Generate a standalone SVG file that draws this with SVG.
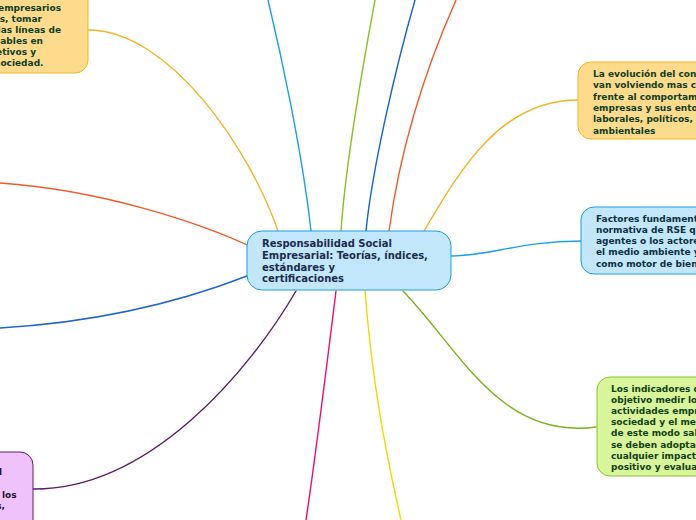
<svg xmlns="http://www.w3.org/2000/svg" width="696" height="520" viewBox="0 0 696 520">
<style>
.c{fill:none;stroke-width:1.4;stroke-linecap:round}
.t{font-family:"DejaVu Sans",Verdana,sans-serif;font-weight:bold;font-size:9px}
.ty{fill:#0f3d1f}
.tb{fill:#0b2f40}
.tg{fill:#124012}
.tp{fill:#1e1430}
.main{font-family:"DejaVu Sans",Verdana,sans-serif;font-weight:bold;font-size:10px;fill:#1a2b4f}
.ny{fill:#fedb8c;stroke:#f5b324;stroke-width:1}
.nb{fill:#c3e7fa;stroke:#1c9fe0;stroke-width:1}
.ng{fill:#d8f59c;stroke:#86c42a;stroke-width:1}
.np{fill:#efc2fb;stroke:#5e1a6e;stroke-width:1}
</style>
<rect width="696" height="520" fill="#ffffff"/>
<g id="connectors">
<path class="c" stroke="#f5b324" d="M88,30 C170,30 250,150 278,231"/>
<path class="c" stroke="#f05a28" d="M0,183 C100,190 200,222 258,250"/>
<path class="c" stroke="#1e63cf" d="M0,328 C100,322 180,302 247,276"/>
<path class="c" stroke="#5d1a6a" d="M33,489 C150,490 250,370 296,291"/>
<path class="c" stroke="#1ba1e2" d="M268,0 C280,50 302,150 311,231"/>
<path class="c" stroke="#8cbf26" d="M375,0 C362,70 345,170 341,231"/>
<path class="c" stroke="#1560d6" d="M415,0 C395,70 372,170 366,231"/>
<path class="c" stroke="#f2592a" d="M456,0 C425,70 400,150 389,231"/>
<path class="c" stroke="#f5b324" d="M578,100 C500,100 460,170 424,231"/>
<path class="c" stroke="#1ba1e2" d="M581,241 C520,241 490,256 451,256"/>
<path class="c" stroke="#7ab317" d="M596,427 C500,440 460,350 403,291"/>
<path class="c" stroke="#ec0c6e" d="M336,291 C325,380 315,460 306,520"/>
<path class="c" stroke="#f0d800" d="M365,291 C372,380 385,450 401,520"/>
</g>
<g id="node-main">
<rect x="247" y="231" width="204" height="59" rx="15" fill="#c3e7fa" stroke="#1c9fe0" stroke-width="1"/>
<text class="main" x="262" y="247">Responsabilidad Social</text>
<text class="main" x="262" y="258.8">Empresarial: Teorías, índices,</text>
<text class="main" x="262" y="270.5">estándares y</text>
<text class="main" x="262" y="282">certificaciones</text>
</g>
<g id="node-topleft">
<rect x="-40" y="-20" width="128" height="93" rx="13" class="ny"/>
<text class="t ty" text-anchor="end" x="61" y="10.5">empresarios</text>
<text class="t ty" text-anchor="end" x="42" y="21.5">s, tomar</text>
<text class="t ty" text-anchor="end" x="61" y="32.5">las líneas de</text>
<text class="t ty" text-anchor="end" x="43" y="43.5">sables en</text>
<text class="t ty" text-anchor="end" x="36" y="54.5">etivos y</text>
<text class="t ty" text-anchor="end" x="43.5" y="65.5">sociedad.</text>
</g>
<g id="node-right1">
<rect x="578" y="62" width="140" height="77" rx="13" class="ny"/>
<text class="t ty" x="593" y="77">La evolución del con</text>
<text class="t ty" x="593" y="88.3">van volviendo mas c</text>
<text class="t ty" x="593" y="99.6">frente al comportam</text>
<text class="t ty" x="593" y="110.9">empresas y sus ento</text>
<text class="t ty" x="593" y="122.2">laborales, políticos, </text>
<text class="t ty" x="593" y="133.5">ambientales</text>
</g>
<g id="node-right2">
<rect x="581" y="207" width="140" height="67" rx="13" class="nb"/>
<text class="t tb" x="596" y="221.5">Factores fundament</text>
<text class="t tb" x="596" y="232.8">normativa de RSE qu</text>
<text class="t tb" x="596" y="244">agentes o los actore</text>
<text class="t tb" x="596" y="255.3">el medio ambiente y</text>
<text class="t tb" x="596" y="266.5">como motor de bien</text>
</g>
<g id="node-right3">
<rect x="597" y="377" width="130" height="99" rx="13" class="ng"/>
<text class="t tg" x="611" y="392">Los indicadores d</text>
<text class="t tg" x="611" y="403.1">objetivo medir lo</text>
<text class="t tg" x="611" y="414.2">actividades empr</text>
<text class="t tg" x="611" y="425.3">sociedad y el me</text>
<text class="t tg" x="611" y="436.4">de este modo sal</text>
<text class="t tg" x="611" y="447.5">se deben adoptar</text>
<text class="t tg" x="611" y="458.6">cualquier impact</text>
<text class="t tg" x="611" y="469.7">positivo y evalua</text>
</g>
<g id="node-bottomleft">
<rect x="-40" y="452" width="73" height="90" rx="13" class="np"/>
<text class="t tp" text-anchor="end" x="2" y="475">l</text>
<text class="t tp" text-anchor="end" x="16.5" y="497.7">los</text>
<text class="t tp" text-anchor="end" x="5" y="508.7">s,</text>
</g>
</svg>
